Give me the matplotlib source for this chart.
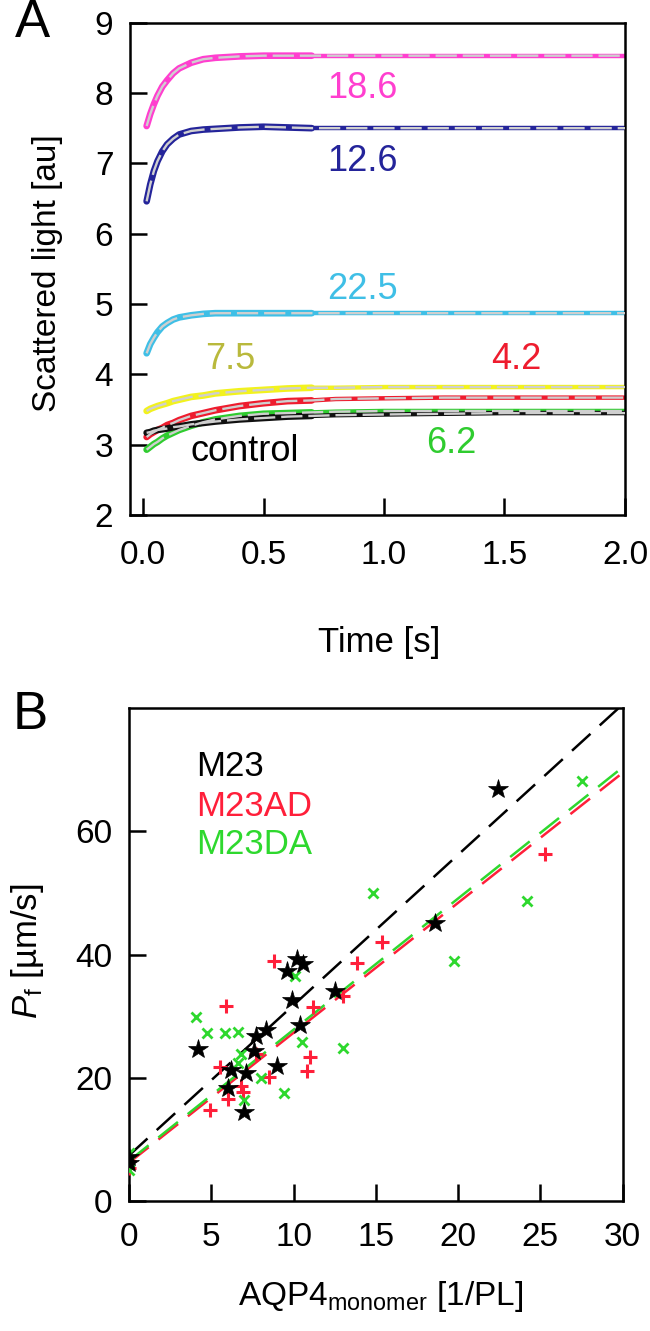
import numpy as np
import matplotlib
matplotlib.use("Agg")
import matplotlib.pyplot as plt

plt.rcParams["font.family"] = ["Liberation Sans", "DejaVu Sans"]
plt.rcParams["mathtext.fontset"] = "custom"
plt.rcParams["mathtext.rm"] = "Liberation Sans"
plt.rcParams["mathtext.it"] = "Liberation Sans:italic"

# ---- panel A: stopped-flow light scattering traces ----
t_s = [0.015, 0.03, 0.045, 0.06, 0.08, 0.10, 0.125, 0.15, 0.2, 0.25, 0.3,
       0.4, 0.5, 0.6, 0.7, 0.8, 1.0, 1.25, 1.5, 1.75, 2.0]
trace_magenta = [7.53, 7.70, 7.84, 7.96, 8.09, 8.18, 8.28, 8.35, 8.43, 8.48, 8.50,
                 8.52, 8.53, 8.53, 8.53, 8.53, 8.53, 8.53, 8.53, 8.53, 8.53]
trace_navy = [6.46, 6.70, 6.89, 7.03, 7.17, 7.27, 7.35, 7.41, 7.46, 7.48, 7.49,
              7.51, 7.52, 7.51, 7.50, 7.50, 7.50, 7.50, 7.50, 7.50, 7.50]
trace_cyan = [4.30, 4.43, 4.52, 4.60, 4.68, 4.73, 4.78, 4.81, 4.84, 4.86, 4.87,
              4.87, 4.87, 4.87, 4.87, 4.87, 4.87, 4.87, 4.87, 4.87, 4.87]
trace_yellow = [3.48, 3.51, 3.53, 3.55, 3.57, 3.59, 3.62, 3.64, 3.68, 3.70, 3.73,
                3.76, 3.78, 3.80, 3.81, 3.81, 3.82, 3.82, 3.82, 3.82, 3.82]
trace_red = [3.11, 3.15, 3.18, 3.21, 3.24, 3.28, 3.31, 3.35, 3.41, 3.45, 3.49,
             3.55, 3.59, 3.62, 3.63, 3.65, 3.66, 3.67, 3.67, 3.67, 3.67]
trace_green = [2.93, 2.97, 3.01, 3.04, 3.09, 3.13, 3.17, 3.21, 3.27, 3.32, 3.36,
               3.41, 3.44, 3.45, 3.46, 3.47, 3.48, 3.48, 3.48, 3.48, 3.48]
trace_black = [3.17, 3.18, 3.20, 3.21, 3.22, 3.23, 3.25, 3.26, 3.29, 3.31, 3.33,
               3.36, 3.38, 3.40, 3.41, 3.42, 3.43, 3.44, 3.45, 3.45, 3.45]

trace_names = ["18.6", "12.6", "22.5", "7.5", "4.2", "6.2", "control"]
trace_data = [trace_magenta, trace_navy, trace_cyan, trace_yellow,
              trace_red, trace_green, trace_black]
trace_colors = ["#ff3fcf", "#24249a", "#3fbfe6", "#f2f21e", "#ee1c2e", "#2fcc2f", "#111111"]
label_colors = ["#ff3fcf", "#24249a", "#3fbfe6", "#b9b93c", "#ee1c2e", "#2fcc2f", "#000000"]
label_pos = [(0.91, 8.07), (0.91, 7.03), (0.91, 5.2), (0.36, 4.21),
             (1.55, 4.21), (1.28, 3.02), (0.42, 2.90)]

# ---- panel B: Pf vs AQP4 monomer density ----
m23_x = [0, 0, 4.2, 6.0, 6.2, 7.1, 7.0, 7.6, 7.7, 8.3, 9.0, 9.9, 9.6, 10.2, 10.6,
         10.4, 12.5, 18.6, 22.4]
m23_y = [7.2, 6.2, 24.6, 18.3, 21.3, 20.7, 14.5, 24.3, 26.7, 27.8, 21.9, 32.6, 37.3,
         39.2, 38.4, 28.6, 34.0, 45.1, 66.8]
m23ad_x = [0, 0, 4.95, 5.55, 5.9, 6.0, 6.8, 6.9, 7.7, 8.5, 8.8, 10.8, 11.0, 11.2,
           13.0, 13.85, 15.4, 25.3]
m23ad_y = [5.4, 6.5, 14.8, 21.8, 31.7, 16.5, 18.7, 17.7, 23.8, 20.1, 38.9, 21.1,
           23.3, 31.5, 33.2, 38.7, 42.0, 56.3]
m23da_x = [0, 0, 0, 4.05, 4.75, 5.85, 6.6, 6.6, 6.8, 7.0, 8.0, 9.4, 10.1, 10.5,
           13.0, 14.85, 19.75, 24.2, 27.5]
m23da_y = [5.0, 6.5, 7.8, 29.8, 27.2, 27.3, 27.4, 22.4, 23.8, 16.4, 20.0, 17.5,
           36.5, 25.8, 24.9, 50.0, 38.9, 48.7, 68.2]
# linear fits (intercept, slope)
fit_m23 = (7.4, 2.44)
fit_m23ad = (6.2, 2.11)
fit_m23da = (6.5, 2.13)

c_red = "#ff1f3a"
c_green = "#2ed82e"

fig = plt.figure(figsize=(6.5, 13.31), dpi=100)

# ================= A =================
axA = fig.add_axes([0.2, 0.613, 0.7615, 0.370])
t_arr = np.array(t_s)
early = t_arr <= 0.7
late = t_arr >= 0.7
for ys, col in zip(trace_data, trace_colors):
    ys = np.array(ys)
    axA.plot(t_arr[early], ys[early], color=col, lw=4.8, solid_capstyle="round", zorder=2)
    axA.plot(t_arr[late], ys[late], color=col, lw=3.2, zorder=2)
    axA.plot(t_arr, ys, color="#cfcfcf", lw=1.7, dashes=(9, 2.5), zorder=3)
for name, (tx, ty), col in zip(trace_names, label_pos, label_colors):
    axA.text(tx, ty, name, color=col, fontsize=26, ha="center", va="center")

axA.set_xlim(-0.054, 2.0)
axA.set_ylim(2, 9)
axA.set_xticks([0, 0.5, 1.0, 1.5, 2.0])
axA.set_xticklabels(["0.0", "0.5", "1.0", "1.5", "2.0"])
axA.set_yticks(range(2, 10))

# ================= B =================
axB = fig.add_axes([0.1985, 0.0977, 0.7595, 0.3703])
xfit = np.array([0, 30])
for (b0, b1), col in zip([fit_m23, fit_m23ad, fit_m23da], ["black", c_red, c_green]):
    axB.plot(xfit, b0 + b1 * xfit, color=col, lw=1.8, dashes=(10, 5), zorder=2)
axB.plot(m23ad_x, m23ad_y, ls="none", marker="+", ms=10, mew=2.2, color=c_red, zorder=3)
axB.plot(m23da_x, m23da_y, ls="none", marker="x", ms=7.5, mew=2.0, color=c_green, zorder=3)
axB.plot(m23_x, m23_y, ls="none", marker="*", ms=15, mew=0.5, color="black", zorder=4)
axB.text(4.1, 70.6, "M23", color="black", fontsize=25, va="center")
axB.text(4.1, 64.1, "M23AD", color=c_red, fontsize=25, va="center")
axB.text(4.1, 57.8, "M23DA", color=c_green, fontsize=25, va="center")
axB.set_xlim(0, 30)
axB.set_ylim(0, 80)
axB.set_xticks([0, 5, 10, 15, 20, 25, 30])
axB.set_yticks([0, 20, 40, 60])

for ax in (axA, axB):
    for sp in ax.spines.values():
        sp.set_linewidth(1.8)
    ax.tick_params(direction="in", length=12, width=1.8, labelsize=24, top=False, right=False)
    ax.tick_params(axis="y", pad=12)
axA.tick_params(axis="x", pad=18)
axB.tick_params(axis="x", pad=15)

fig.text(0.073, 0.795, "Scattered light [au]", rotation=90, fontsize=24,
         ha="center", va="center")
fig.text(0.583, 0.517, "Time [s]", fontsize=25, ha="center", va="center")
fig.text(0.042, 0.285, r"$\it{P}_{\rm f}$ [µm/s]", rotation=90, fontsize=25,
         ha="center", va="center")
fig.text(0.585, 0.026, r"AQP4$_{\rm monomer}$ [1/PL]", fontsize=24,
         ha="center", va="center")
fig.text(0.05, 0.983, "A", fontsize=38, ha="center", va="center")
fig.text(0.046, 0.463, "B", fontsize=38, ha="center", va="center")

fig.savefig("out.png", dpi=100)
